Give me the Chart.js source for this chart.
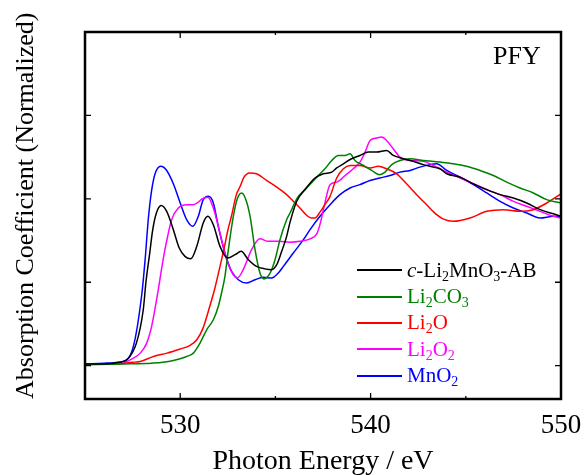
<!DOCTYPE html>
<html>
<head>
<meta charset="utf-8">
<script src="https://cdn.jsdelivr.net/npm/chart.js@4.4.1/dist/chart.umd.min.js"></script>
<style>
  body { margin: 0; background: #fff; }
  #wrap { position: relative; width: 586px; height: 475px; font-family: 'Liberation Serif', 'Times New Roman', serif; }
  #chart { position: absolute; left: 0; top: 0; }
  #pfy { position: absolute; left: 493px; top: 43px; font-size: 26px; line-height: 26px; color: #000; }
  #legend { position: absolute; left: 357px; top: 257px; font-size: 21px; }
  #legend .row { display: flex; align-items: center; height: 26.4px; }
  #legend .swatch { width: 45px; height: 2px; margin-right: 5px; }
  #legend sub { font-size: 14px; line-height: 0; vertical-align: -4px; }
</style>
</head>
<body>
<div id="wrap">
  <canvas id="chart" width="586" height="475"></canvas>
  <div id="pfy">PFY</div>
  <div id="legend"></div>
</div>
<script>
// axis setup
const xMin = 525, xMax = 550;
const xTickValues = [525, 530, 535, 540, 545, 550];
const xTickLabels = [530, 540, 550];
const yTickValues = [0, 1, 2, 3];

const seriesNames = [
    '<i>c</i>-Li<sub>2</sub>MnO<sub>3</sub>-AB',
    'Li<sub>2</sub>CO<sub>3</sub>',
    'Li<sub>2</sub>O',
    'Li<sub>2</sub>O<sub>2</sub>',
    'MnO<sub>2</sub>'
];
const seriesColors = ['#000000', '#008000', '#ff0000', '#ff00ff', '#0000ff'];

// c-Li2MnO3-AB (black)
const blackE = [525, 526, 526.8, 527.2, 527.7, 528.06, 528.2, 528.4, 528.55, 528.75, 529.0, 529.29, 529.64, 529.95, 530.25, 530.55, 530.87, 531.21, 531.45, 531.74, 532.09, 532.5, 532.88, 533.2, 533.58, 534.01, 534.45, 534.8, 535.07, 535.3, 535.59, 535.77, 536.12, 536.55, 537.08, 537.52, 537.96, 538.22, 538.57, 539.0, 539.44, 539.88, 540.32, 540.84, 541.19, 541.72, 542.24, 542.77, 543.29, 543.64, 544.0, 544.7, 545.4, 546.1, 546.8, 547.5, 548.2, 548.9, 549.6, 550];
const blackV = [0.02, 0.02, 0.04, 0.07, 0.27, 0.67, 1.0, 1.35, 1.62, 1.83, 1.92, 1.85, 1.63, 1.41, 1.31, 1.28, 1.43, 1.71, 1.79, 1.69, 1.43, 1.29, 1.33, 1.37, 1.27, 1.19, 1.16, 1.15, 1.21, 1.35, 1.55, 1.72, 1.97, 2.11, 2.25, 2.30, 2.32, 2.37, 2.42, 2.48, 2.52, 2.56, 2.56, 2.58, 2.52, 2.48, 2.45, 2.41, 2.38, 2.36, 2.30, 2.26, 2.18, 2.11, 2.05, 2.01, 1.95, 1.87, 1.82, 1.79];

// Li2CO3 (green)
const greenE = [525, 527, 528.5, 529.1, 529.8, 530.34, 530.69, 531.04, 531.39, 531.74, 532.0, 532.15, 532.35, 532.53, 532.79, 533.0, 533.23, 533.45, 533.67, 533.93, 534.19, 534.4, 534.72, 534.98, 535.24, 535.59, 535.77, 536.12, 536.64, 537.17, 537.6, 537.96, 538.3, 538.66, 538.92, 539.18, 539.62, 540.06, 540.46, 540.76, 541.11, 541.54, 542.07, 542.77, 543.64, 544.34, 545.04, 545.75, 546.45, 547.15, 547.85, 548.55, 549.25, 550];
const greenV = [0.01, 0.02, 0.03, 0.04, 0.07, 0.11, 0.15, 0.27, 0.43, 0.55, 0.71, 0.85, 1.07, 1.39, 1.79, 2.0, 2.07, 1.99, 1.79, 1.39, 1.11, 1.04, 1.11, 1.27, 1.51, 1.75, 1.83, 2.0, 2.13, 2.26, 2.36, 2.46, 2.52, 2.52, 2.54, 2.46, 2.40, 2.34, 2.29, 2.32, 2.41, 2.46, 2.48, 2.46, 2.44, 2.42, 2.39, 2.34, 2.28, 2.20, 2.13, 2.07, 1.99, 1.95];

// Li2O (red)
const redE = [525, 526.5, 527.5, 527.9, 528.6, 529.3, 530.0, 530.5, 530.87, 531.2, 531.5, 531.8, 532.0, 532.3, 532.5, 532.7, 532.95, 533.15, 533.35, 533.65, 534.01, 534.54, 535.07, 535.59, 535.94, 536.29, 536.65, 536.9, 537.08, 537.34, 537.6, 537.87, 538.22, 538.57, 538.92, 539.44, 539.97, 540.4, 540.84, 541.37, 541.89, 542.42, 542.94, 543.47, 543.8, 544.34, 545.22, 546.1, 546.97, 547.85, 548.55, 549.25, 550];
const redV = [0.02, 0.02, 0.04, 0.05, 0.11, 0.15, 0.20, 0.24, 0.31, 0.45, 0.67, 0.91, 1.1, 1.4, 1.62, 1.80, 2.05, 2.15, 2.26, 2.31, 2.30, 2.22, 2.14, 2.05, 1.97, 1.89, 1.80, 1.77, 1.77, 1.84, 1.93, 2.03, 2.25, 2.36, 2.40, 2.40, 2.37, 2.39, 2.36, 2.30, 2.18, 2.05, 1.93, 1.81, 1.76, 1.73, 1.77, 1.85, 1.87, 1.85, 1.87, 1.95, 2.06];

// Li2O2 (magenta)
const magentaE = [525, 526.5, 527.0, 527.54, 527.9, 528.24, 528.5, 528.76, 528.85, 529.05, 529.25, 529.55, 529.9, 530.34, 530.69, 530.9, 531.15, 531.45, 531.74, 532.09, 532.44, 532.79, 533.0, 533.31, 533.75, 534.19, 534.63, 535.15, 535.77, 536.29, 536.82, 537.17, 537.35, 537.55, 537.87, 538.22, 538.66, 539.09, 539.44, 539.71, 539.97, 540.32, 540.58, 540.84, 541.19, 541.54, 542.07, 542.77, 543.29, 544.0, 544.7, 545.4, 546.1, 546.8, 547.5, 548.2, 548.9, 549.6, 550];
const magentaV = [0.02, 0.02, 0.03, 0.09, 0.15, 0.27, 0.47, 0.79, 0.91, 1.2, 1.45, 1.75, 1.89, 1.93, 1.93, 1.95, 2.0, 2.02, 1.89, 1.59, 1.27, 1.09, 1.05, 1.15, 1.39, 1.52, 1.49, 1.49, 1.48, 1.49, 1.52, 1.58, 1.70, 1.90, 2.17, 2.20, 2.28, 2.36, 2.44, 2.56, 2.70, 2.73, 2.74, 2.70, 2.60, 2.50, 2.46, 2.45, 2.40, 2.32, 2.25, 2.18, 2.11, 2.05, 1.97, 1.91, 1.85, 1.79, 1.77];

// MnO2 (blue)
const blueE = [525, 526, 527.0, 527.54, 527.98, 528.15, 528.33, 528.5, 528.68, 528.98, 529.29, 529.64, 530.0, 530.34, 530.66, 530.95, 531.21, 531.48, 531.74, 532.0, 532.35, 532.7, 533.05, 533.49, 533.93, 534.36, 534.8, 535.15, 535.42, 535.94, 536.47, 536.82, 537.34, 537.87, 538.39, 538.92, 539.44, 539.97, 540.49, 541.02, 541.54, 542.07, 542.59, 543.12, 543.47, 544.0, 544.7, 545.4, 546.1, 546.8, 547.5, 548.2, 548.9, 549.6, 550];
const blueV = [0.02, 0.03, 0.05, 0.23, 0.85, 1.25, 1.77, 2.1, 2.30, 2.39, 2.34, 2.18, 1.95, 1.75, 1.67, 1.79, 1.99, 2.03, 1.95, 1.67, 1.35, 1.13, 1.03, 0.99, 1.03, 1.06, 1.05, 1.11, 1.19, 1.35, 1.51, 1.63, 1.79, 1.93, 2.05, 2.13, 2.17, 2.22, 2.25, 2.28, 2.32, 2.34, 2.38, 2.41, 2.42, 2.34, 2.26, 2.17, 2.07, 1.97, 1.89, 1.83, 1.77, 1.79, 1.79];

const seriesE = [blackE, greenE, redE, magentaE, blueE];
const seriesV = [blackV, greenV, redV, magentaV, blueV];

const serif = "'Liberation Serif', 'Times New Roman', serif";

// frame with inward ticks on all four sides
const frameTicks = {
    id: 'frameTicks',
    afterDatasetsDraw(chart) {
        const { ctx, chartArea: a, scales: { x, y } } = chart;
        ctx.save();
        ctx.strokeStyle = '#000';
        ctx.lineWidth = 1.3;
        ctx.beginPath();
        xTickValues.forEach(v => {
            const px = x.getPixelForValue(v);
            const len = xTickLabels.includes(v) ? 6 : 3;
            ctx.moveTo(px, a.bottom); ctx.lineTo(px, a.bottom - len);
            ctx.moveTo(px, a.top); ctx.lineTo(px, a.top + len);
        });
        yTickValues.forEach(v => {
            const py = y.getPixelForValue(v);
            ctx.moveTo(a.left, py); ctx.lineTo(a.left + 6, py);
            ctx.moveTo(a.right, py); ctx.lineTo(a.right - 6, py);
        });
        ctx.stroke();
        ctx.lineWidth = 2.5;
        ctx.strokeRect(a.left, a.top, a.right - a.left, a.bottom - a.top);
        ctx.restore();
    }
};

new Chart(document.getElementById('chart'), {
    type: 'line',
    data: {
        datasets: seriesE.map((xs, i) => ({
            label: seriesNames[i].replace(/<[^>]+>/g, ''),
            data: xs.map((e, j) => ({ x: e, y: seriesV[i][j] })),
            borderColor: seriesColors[i],
            backgroundColor: seriesColors[i],
            borderWidth: 1.5,
            pointRadius: 0,
            cubicInterpolationMode: 'monotone',
            fill: false
        }))
    },
    options: {
        responsive: false,
        animation: false,
        devicePixelRatio: 1,
        layout: { padding: { top: 32, right: 25, left: 0, bottom: 0 } },
        plugins: {
            legend: { display: false },
            tooltip: { enabled: false }
        },
        scales: {
            x: {
                type: 'linear',
                min: xMin,
                max: xMax,
                afterFit: s => { s.height = 76; },
                afterBuildTicks: s => { s.ticks = xTickValues.map(v => ({ value: v })); },
                grid: { display: false },
                border: { display: false },
                ticks: {
                    autoSkip: false,
                    maxRotation: 0,
                    padding: 3,
                    color: '#000',
                    font: { family: serif, size: 27, lineHeight: 1.2 },
                    callback: v => xTickLabels.includes(v) ? String(v) : ''
                },
                title: {
                    display: true,
                    text: 'Photon Energy / eV',
                    color: '#000',
                    font: { family: serif, size: 28, lineHeight: 1 },
                    padding: { top: 0, bottom: -1 }
                }
            },
            y: {
                min: -0.4,
                max: 4.0,
                afterFit: s => { s.width = 85; },
                grid: { display: false },
                border: { display: false },
                ticks: { display: false },
                title: {
                    display: true,
                    align: 'start',
                    text: 'Absorption Coefficient (Normalized)',
                    color: '#000',
                    font: { family: serif, size: 26, lineHeight: 1 },
                    padding: { top: 13, bottom: 0 }
                }
            }
        }
    },
    plugins: [frameTicks]
});

// legend with subscripts
const legend = document.getElementById('legend');
seriesNames.forEach((name, i) => {
    const row = document.createElement('div');
    row.className = 'row';
    row.style.color = seriesColors[i];
    row.innerHTML = '<span class="swatch" style="background:' + seriesColors[i] + '"></span><span>' + name + '</span>';
    legend.appendChild(row);
});
</script>
</body>
</html>
